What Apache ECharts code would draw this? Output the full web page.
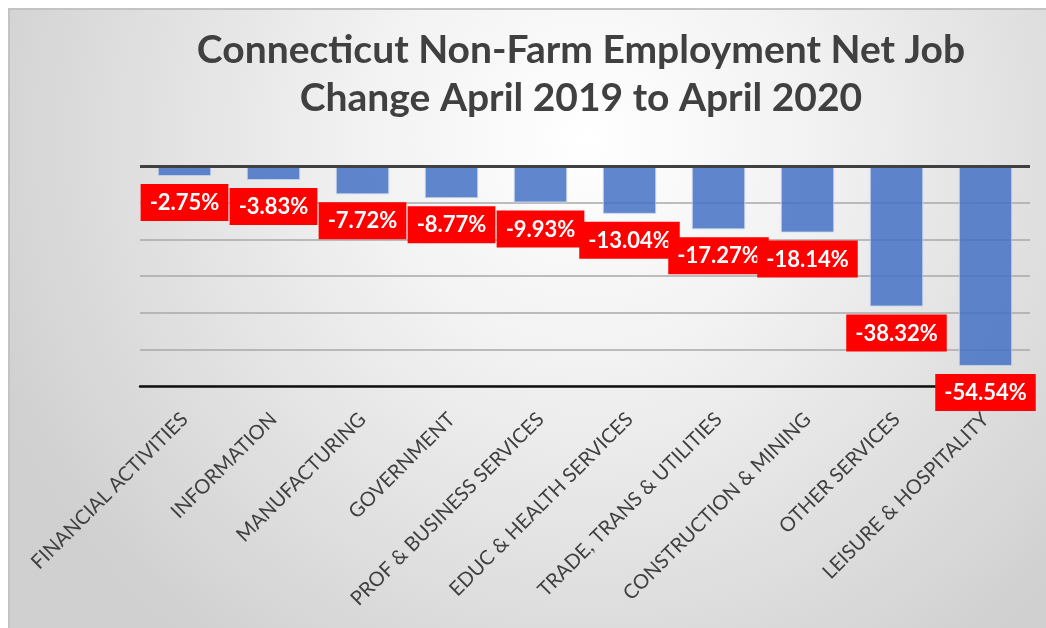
<!DOCTYPE html>
<html>
<head>
<meta charset="utf-8">
<script src="https://cdn.jsdelivr.net/npm/echarts@6/dist/echarts.min.js"></script>
<style>
	html, body { margin: 0; padding: 0; background: #ffffff; overflow: hidden; }
	#chart {
		position: absolute;
		left: 8px;
		top: 8px;
		width: 1050px;
		height: 640px;
		border-left: 2px solid #c3c3c3;
		border-top: 2px solid #c3c3c3;
	}
</style>
</head>
<body>
<div id="chart"></div>
<script>
//Chart data
let categories = [
	"FINANCIAL ACTIVITIES", "INFORMATION", "MANUFACTURING", "GOVERNMENT",
	"PROF & BUSINESS SERVICES", "EDUC & HEALTH SERVICES", "TRADE, TRANS & UTILITIES",
	"CONSTRUCTION & MINING", "OTHER SERVICES", "LEISURE & HOSPITALITY"
];
let job_change_values = [-2.75, -3.83, -7.72, -8.77, -9.93, -13.04, -17.27, -18.14, -38.32, -54.54];
let title_lines = [
	"Connecticut Non-Farm Employment Net Job",
	"Change April 2019 to April 2020"
];

//Declare local instance variables
let font_family = "Lato, 'Open Sans', sans-serif";
let chart = echarts.init(document.getElementById("chart"), null, { renderer: "canvas" });

let chart_options = {
	animation: false,
	backgroundColor: {
		type: "radial",
		x: 0.55, y: 0.2, r: 1.0,
		colorStops: [
			{ offset: 0, color: "#ffffff" },
			{ offset: 0.35, color: "#f2f2f2" },
			{ offset: 1, color: "#d0d0d0" }
		]
	},
	graphic: [
		{
			type: "text",
			x: 571, y: 16,
			style: {
				text: title_lines.join("\n"),
				align: "center",
				verticalAlign: "top",
				fill: "#404040",
				font: `bold 39px ${font_family}`,
				lineHeight: 48
			}
		}
	],
	grid: {
		left: 130,
		right: 30,
		top: 156,
		bottom: 264
	},
	xAxis: {
		type: "category",
		data: categories,
		position: "bottom",
		axisLine: {
			onZero: false,
			lineStyle: { color: "#111111", width: 2.5 }
		},
		axisTick: { show: false },
		axisLabel: {
			rotate: 45,
			margin: 30,
			color: "#404040",
			fontSize: 20,
			fontFamily: font_family,
			interval: 0
		}
	},
	yAxis: {
		type: "value",
		min: -60,
		max: 0,
		interval: 10,
		axisLine: { show: false },
		axisTick: { show: false },
		axisLabel: { show: false },
		splitLine: {
			lineStyle: { color: "#a8a8a8", width: 1.5 }
		}
	},
	series: [
		{
			type: "bar",
			data: job_change_values,
			barCategoryGap: "40%",
			itemStyle: {
				color: "rgba(68, 114, 196, 0.85)",
				borderColor: "rgba(200, 215, 240, 0.8)",
				borderWidth: 1
			},
			label: {
				show: true,
				position: "bottom",
				distance: 8,
				formatter: (params) => `${params.value.toFixed(2)}%`,
				color: "#ffffff",
				fontWeight: "bold",
				fontSize: 22,
				fontFamily: font_family,
				backgroundColor: "#ff0000",
				padding: [8, 9, 7, 9]
			},
			markLine: {
				silent: true,
				symbol: "none",
				label: { show: false },
				lineStyle: { color: "#404040", width: 3, type: "solid" },
				data: [{ yAxis: 0 }]
			},
			z: 3
		}
	]
};

chart.setOption(chart_options);
</script>
</body>
</html>
